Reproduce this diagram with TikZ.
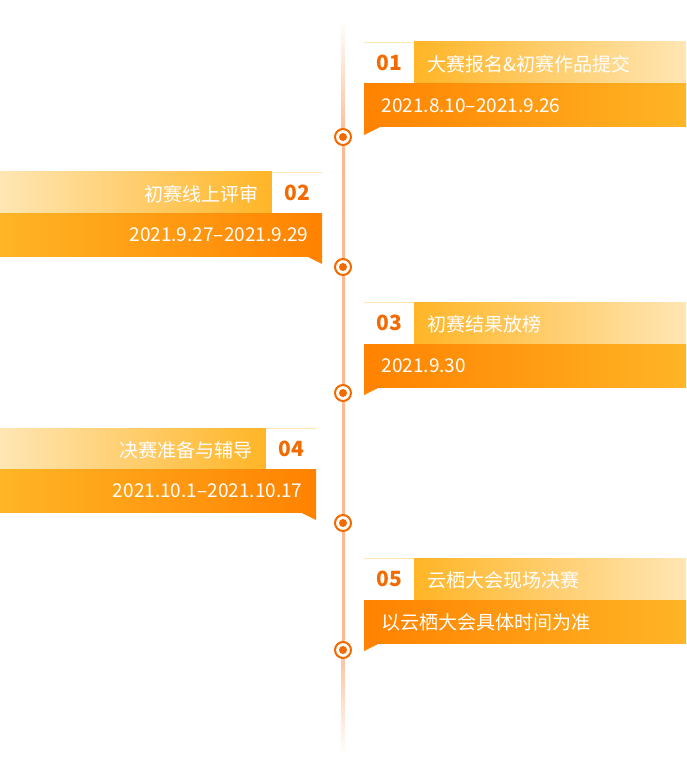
\documentclass[tikz,border=0pt]{standalone}
\usepackage{fontspec}
\setmainfont{Noto Sans CJK SC}
\usetikzlibrary{shadings}
\definecolor{dark}{HTML}{FF8200}
\definecolor{mid}{HTML}{FFB526}
\definecolor{light}{HTML}{FFE6B4}
\definecolor{num}{HTML}{F26A00}
\definecolor{line}{HTML}{FFB890}
\tikzset{
 ttl/.style={font=\fontsize{19}{19}\selectfont, text=white, anchor=west},
 dt/.style={font=\fontsize{19}{19}\selectfont, text=white, anchor=west},
 nm/.style={font=\fontsize{21}{21}\selectfont\bfseries, text=num},
 ring/.style={draw=num, line width=2pt, fill=white, circle, minimum size=16pt, inner sep=0pt},
}
\newcommand{\rightitem}[5]{% y, num, title, date, name
 \fill[left color=mid,right color=light] (414,#1) rectangle (686,#1+42);
 \fill[white] (364,#1) rectangle (414,#1+42);
 \draw[light, line width=0.6pt] (364,#1) -- (414,#1);
 \fill[left color=dark,right color=mid] (364,#1+42) rectangle (686,#1+85);
 \fill[dark] (364,#1+85) -- (380,#1+85) -- (364,#1+93) -- cycle;
 \node[nm] (n#5) at (389,#1+21) {#2};
 \node[ttl] (t#5) at (424,#1+22) {#3};
 \node[dt] (d#5) at (378,#1+64) {#4};
}
\newcommand{\leftitem}[6]{% y, num, title, date, name, right edge
 \fill[left color=light,right color=mid] (0,#1) rectangle (#6-50,#1+41);
 \fill[white] (#6-50,#1) rectangle (#6,#1+41);
 \draw[light, line width=0.6pt] (#6-50,#1) -- (#6,#1);
 \fill[left color=mid,right color=dark] (0,#1+41) rectangle (#6,#1+84);
 \fill[dark] (#6,#1+84) -- (#6-16,#1+84) -- (#6,#1+92) -- cycle;
 \node[nm] (n#5) at (#6-25,#1+21) {#2};
 \node[ttl, anchor=east] (t#5) at (#6-60,#1+22) {#3};
 \node[dt, anchor=east] (d#5) at (#6-10,#1+63) {#4};
}
\begin{document}
\begin{tikzpicture}[x=1pt,y=-1pt]
\useasboundingbox (0,0) rectangle (686,778);
\shade[top color=white, bottom color=line] (341.5,20) rectangle (344.5,140);
\fill[line] (341.5,140) rectangle (344.5,640);
\shade[top color=line, bottom color=white] (341.5,640) rectangle (344.5,755);
\rightitem{42}{01}{大赛报名\&初赛作品提交}{2021.8.10–2021.9.26}{a}
\leftitem{172}{02}{初赛线上评审}{2021.9.27–2021.9.29}{b}{322}
\rightitem{302}{03}{初赛结果放榜}{2021.9.30}{c}
\leftitem{428}{04}{决赛准备与辅导}{2021.10.1–2021.10.17}{d}{316}
\rightitem{558}{05}{云栖大会现场决赛}{以云栖大会具体时间为准}{e}
\foreach \y/\n in {137/1,267/2,393/3,523/4,650/5}{
 \node[ring] (c\n) at (343,\y) {};
 \fill[num] (c\n.center) circle (4);
}
\end{tikzpicture}
\end{document}
